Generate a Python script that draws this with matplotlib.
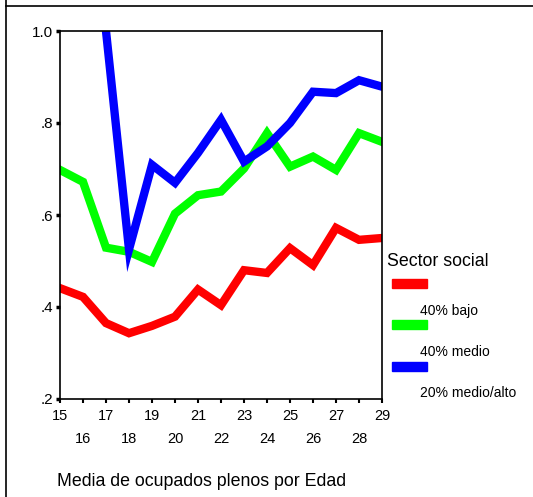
import numpy as np
import matplotlib.pyplot as plt
from matplotlib.lines import Line2D
from matplotlib.patches import Rectangle

plt.rcParams['font.family'] = ['Liberation Sans', 'DejaVu Sans']

# mean of full-time employed by age, per social sector
ages = [15, 16, 17, 18, 19, 20, 21, 22, 23, 24, 25, 26, 27, 28, 29]
bajo = [0.441, 0.422, 0.365, 0.343, 0.359, 0.379, 0.438, 0.404, 0.480, 0.474,
        0.528, 0.491, 0.572, 0.546, 0.550]
medio = [0.698, 0.672, 0.529, 0.520, 0.498, 0.603, 0.643, 0.651, 0.701, 0.778,
         0.705, 0.727, 0.698, 0.778, 0.759]
alto = [np.nan, np.nan, 1.0, 0.525, 0.709, 0.670, 0.735, 0.807, 0.716, 0.749,
        0.800, 0.868, 0.865, 0.893, 0.879]

series = [bajo, medio, alto]
names = ['40% bajo', '40% medio', '20% medio/alto']
colors = ['#ff0000', '#00ff00', '#0000ff']

W, H = 533, 497
fig = plt.figure(figsize=(W / 100, H / 100), dpi=100)
ax = fig.add_axes([60 / W, 1 - 399 / H, (382 - 60) / W, (399 - 31) / H])

for vals, c in zip(series, colors):
    ax.plot(ages, vals, color=c, lw=6, solid_joinstyle='miter', clip_on=True)

ax.set_xlim(15, 29)
ax.set_ylim(0.2, 1.0)
ax.set_yticks([0.2, 0.4, 0.6, 0.8, 1.0])
ax.set_yticklabels(['.2', '.4', '.6', '.8', '1.0'], fontsize=11)
ax.set_xticks(ages)
ax.set_xticklabels([str(a) if a % 2 == 1 else '\n' + str(a) for a in ages],
                   fontsize=10.5, linespacing=1.8)
ax.tick_params(axis='y', direction='out', length=3, width=2.5, pad=2)
ax.tick_params(axis='x', direction='out', length=3, width=1.5, pad=4)
for s in ax.spines.values():
    s.set_linewidth(1.2)

# legend drawn by hand in SPSS style
fig.text(387 / W, 1 - 261 / H, 'Sector social', fontsize=12.8, va='center', ha='left')
patch_y = [279, 320, 362]
label_y = [311, 352, 393]
for py, ly, c, n in zip(patch_y, label_y, colors, names):
    fig.add_artist(Rectangle((392 / W, 1 - (py + 9) / H), 35 / W, 9 / H,
                             color=c, transform=fig.transFigure))
    fig.text(420 / W, 1 - ly / H, n, fontsize=10, va='center', ha='left')

fig.text(57 / W, 1 - 482 / H, 'Media de ocupados plenos por Edad', fontsize=12.8,
         va='center', ha='left')

# outer frame
fig.add_artist(Line2D([6 / W, 6 / W], [0, 1], color='black', lw=1.2,
                      transform=fig.transFigure))
fig.add_artist(Line2D([6 / W, 1], [1 - 6 / H, 1 - 6 / H], color='black', lw=1.2,
                      transform=fig.transFigure))

fig.savefig('out.png', dpi=100)
